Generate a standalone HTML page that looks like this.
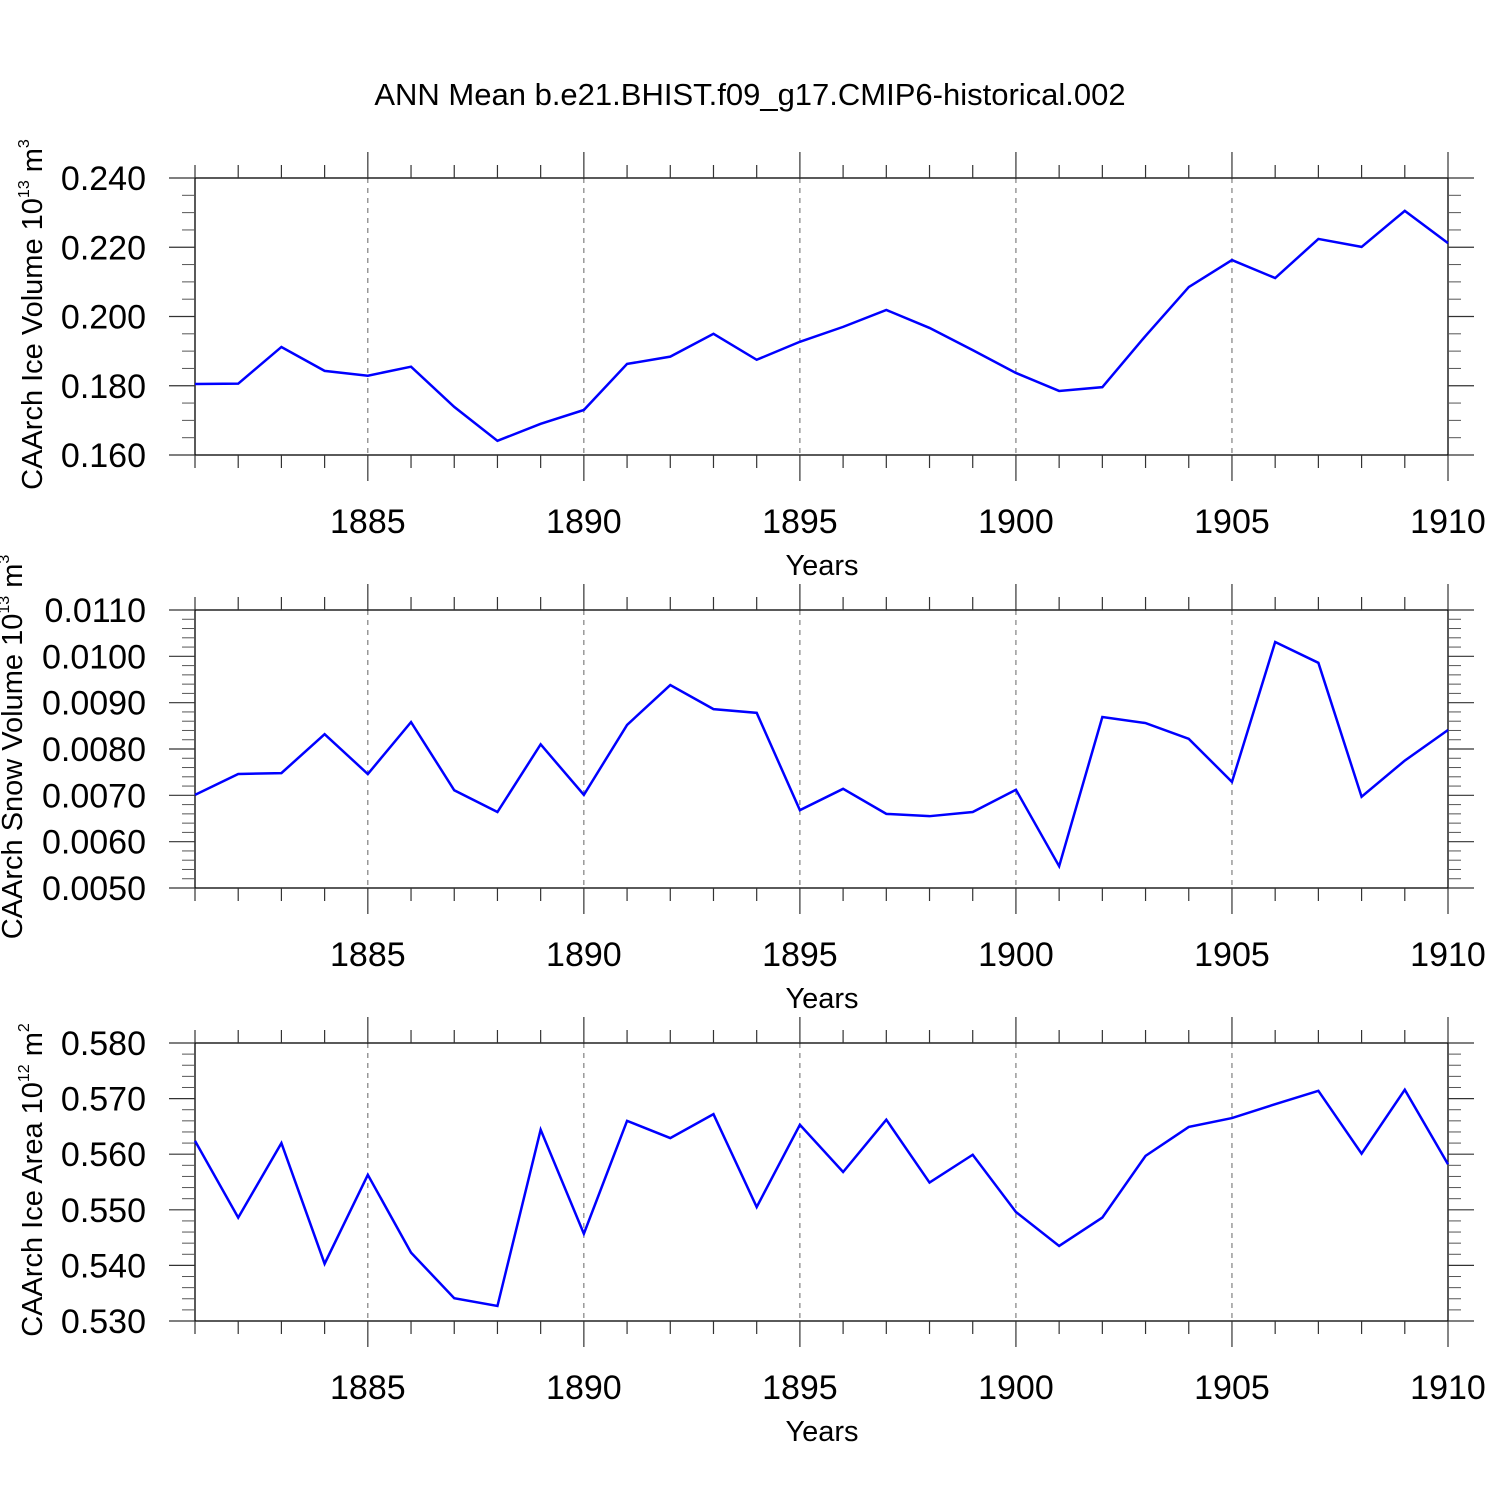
<!DOCTYPE html>
<html><head><meta charset="utf-8"><style>
html,body{margin:0;padding:0;background:#fff;}
svg{display:block;font-family:"Liberation Sans",Arial,sans-serif;}
</style></head><body>
<svg id="chart" width="1500" height="1500" viewBox="0 0 1500 1500">
<text x="750" y="105" font-size="31" text-anchor="middle">ANN Mean b.e21.BHIST.f09_g17.CMIP6-historical.002</text>
</svg>
<script>
const years = [1881,1882,1883,1884,1885,1886,1887,1888,1889,1890,1891,1892,1893,1894,1895,1896,1897,1898,1899,1900,1901,1902,1903,1904,1905,1906,1907,1908,1909,1910];
const iceVolume = [0.1805,0.1806,0.1912,0.1843,0.1829,0.1855,0.1739,0.1641,0.1690,0.1730,0.1863,0.1884,0.1950,0.1875,0.1927,0.1970,0.2019,0.1967,0.1903,0.1837,0.1785,0.1796,0.1944,0.2085,0.2163,0.2111,0.2224,0.2201,0.2305,0.2212];
const snowVolume = [0.00701,0.00746,0.00748,0.00832,0.00746,0.00858,0.00711,0.00664,0.00810,0.00701,0.00852,0.00938,0.00886,0.00878,0.00668,0.00714,0.00660,0.00655,0.00664,0.00712,0.00547,0.00869,0.00856,0.00822,0.00729,0.01031,0.00986,0.00697,0.00775,0.00841];
const iceArea = [0.5624,0.5486,0.5620,0.5403,0.5563,0.5423,0.5341,0.5327,0.5644,0.5457,0.5660,0.5629,0.5672,0.5505,0.5653,0.5568,0.5662,0.5549,0.5599,0.5496,0.5435,0.5486,0.5597,0.5649,0.5665,0.5690,0.5714,0.5601,0.5716,0.5582];
const xTickLabels = ["1885","1890","1895","1900","1905","1910"];
const iceVolTicks = ["0.160","0.180","0.200","0.220","0.240"];
const snowVolTicks = ["0.0050","0.0060","0.0070","0.0080","0.0090","0.0100","0.0110"];
const iceAreaTicks = ["0.530","0.540","0.550","0.560","0.570","0.580"];

const NS="http://www.w3.org/2000/svg";
const svg=document.getElementById('chart');
function mk(tag,attrs,parent){const e=document.createElementNS(NS,tag);for(const k in attrs)e.setAttribute(k,attrs[k]);(parent||svg).appendChild(e);return e;}
const X0=195,X1=1448,xmin=1881,xmax=1910;
const xs=v=>X0+(v-xmin)/(xmax-xmin)*(X1-X0);

const panels=[
 {name:'ice-volume',top:178,bot:455,vals:iceVolume,ticks:iceVolTicks,minorPer:4,tx:42,title:['CAArch Ice Volume 10','13',' m','3']},
 {name:'snow-volume',top:610,bot:888,vals:snowVolume,ticks:snowVolTicks,minorPer:5,tx:22,title:['CAArch Snow Volume 10','13',' m','3']},
 {name:'ice-area',top:1043,bot:1321,vals:iceArea,ticks:iceAreaTicks,minorPer:5,tx:42,title:['CAArch Ice Area 10','12',' m','2']}
];
panels.forEach(p=>{
 const g=mk('g',{});
 
 
 const tv=p.ticks.map(Number);
 const ymin=tv[0],ymax=tv[tv.length-1];
 const ys=v=>p.bot-(v-ymin)/(ymax-ymin)*(p.bot-p.top);
 xTickLabels.forEach(l=>{const y=+l;if(y<xmax){const ln=mk('line',{x1:xs(y),x2:xs(y),y1:p.top,y2:p.bot,stroke:'#666','stroke-width':1,'stroke-dasharray':'5,5'},g);
  }});
 const fr=mk('rect',{x:X0,y:p.top,width:X1-X0,height:p.bot-p.top,fill:'none',stroke:'#000','stroke-width':1.3},g);
 
 for(let y=xmin;y<=xmax;y++){
  const major=(y%5===0);const L=major?26:13;
  mk('line',{x1:xs(y),x2:xs(y),y1:p.top-L,y2:p.top,stroke:'#333','stroke-width':1.2},g);
  mk('line',{x1:xs(y),x2:xs(y),y1:p.bot,y2:p.bot+L,stroke:'#333','stroke-width':1.2},g);
 }
 xTickLabels.forEach(l=>{const t=mk('text',{x:xs(+l),y:p.bot+78,'font-size':34,'text-anchor':'middle'},g);t.textContent=l;
  });
 const xt=mk('text',{x:822,y:p.bot+120,'font-size':29,'text-anchor':'middle'},g);xt.textContent='Years';
 
 const step=tv[1]-tv[0];
 for(let i=0;i<tv.length;i++){
  const y=ys(tv[i]);
  mk('line',{x1:X0-26,x2:X0,y1:y,y2:y,stroke:'#333','stroke-width':1.2},g);
  mk('line',{x1:X1,x2:X1+26,y1:y,y2:y,stroke:'#333','stroke-width':1.2},g);
  const t=mk('text',{x:146,y:y+12,'font-size':34,'text-anchor':'end'},g);t.textContent=p.ticks[i];
  
  if(i<tv.length-1){for(let k=1;k<p.minorPer;k++){const yy=ys(tv[i]+step*k/p.minorPer);
   mk('line',{x1:X0-13,x2:X0,y1:yy,y2:yy,stroke:'#555','stroke-width':1},g);
   mk('line',{x1:X1,x2:X1+13,y1:yy,y2:yy,stroke:'#555','stroke-width':1},g);}}
 }
 const cy=(p.top+p.bot)/2-2;
 const tt=mk('text',{transform:`translate(${p.tx},${cy}) rotate(-90)`,'font-size':29,'text-anchor':'middle'},g);
 
 const a=mk('tspan',{},tt);a.textContent=p.title[0];
 const b=mk('tspan',{'font-size':16,dy:-13},tt);b.textContent=p.title[1];
 const c=mk('tspan',{dy:13},tt);c.textContent=p.title[2];
 const d=mk('tspan',{'font-size':16,dy:-13},tt);d.textContent=p.title[3];
 const pts=years.map((y,i)=>xs(y)+','+ys(p.vals[i])).join(' ');
 const pl=mk('polyline',{points:pts,fill:'none',stroke:'#0000ff','stroke-width':2.5,'stroke-linejoin':'miter'},g);
 
 
});
</script>
</body></html>
